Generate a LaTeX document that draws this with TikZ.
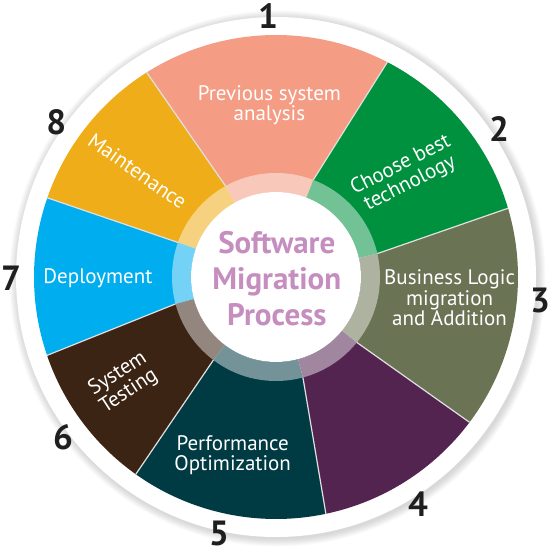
\documentclass[tikz,border=0pt]{standalone}
\usepackage{fontspec}
\setmainfont{PT Sans}
\definecolor{salmon}{HTML}{F49C84}
\definecolor{techgreen}{HTML}{00913F}
\definecolor{olive}{HTML}{6A7354}
\definecolor{plum}{HTML}{52244F}
\definecolor{teal}{HTML}{003B44}
\definecolor{brown}{HTML}{3C2415}
\definecolor{sky}{HTML}{00AEEF}
\definecolor{amber}{HTML}{EFAE19}
\definecolor{mauve}{HTML}{C58EBF}
\begin{document}
\begin{tikzpicture}[x=1pt,y=1pt,
 sep/.style={draw=black!12,line width=1.2pt},
 lbl/.style={text=white,align=center,inner sep=0pt,font=\fontsize{21}{20.5}\selectfont},
 num/.style={text=black!88,inner sep=0pt,font=\bfseries\fontsize{35}{35}\selectfont}]
\useasboundingbox(-276,-274)rectangle(274,277);
\pgfmathsetmacro{\rin}{85}
\pgfmathsetmacro{\rring}{104}
\pgfmathsetmacro{\rout}{242}
\foreach \k in {0,...,7}\fill[black,opacity=0.02](1.5,-1.5)circle(261+\k);
\fill[white](0,0)circle(260);
\foreach \aa/\ba/\ab/\bb/\col in {69/62.6/119/122.3/salmon,119/122.3/160.6/160.9/amber,
 160.6/160.9/195/198.9/sky,195/198.9/233/234.6/brown,233/234.6/285/281.9/teal,
 285/281.9/321/323.1/plum,321/323.1/373/376.5/olive,13/16.5/69/62.6/techgreen}
 \fill[\col](0,0)--(\aa:\rring)--(\ba:\rout)arc[start angle=\ba,end angle=\bb,radius=\rout]--(\ab:\rring)--cycle;
\fill[white,opacity=.45,even odd rule](0,0)circle(\rring)(0,0)circle(\rin);
\fill[white](0,0)circle(\rin);
\foreach \a/\b in {69/62.6,119/122.3,160.6/160.9,195/198.9,233/234.6,285/281.9,321/323.1,13/16.5}
 \draw[sep](\a:\rring)--(\b:\rout);
\node[lbl](t1)at(-6.6,172){Previous system\\analysis};
\node[lbl,rotate=27](t2)at(129.5,102.5){Choose best\\technology};
\node[lbl](t3)at(173.6,-21){Business Logic\\migration\\and Addition};
\node[lbl](t5)at(-43.3,-178){Performance\\Optimization};
\node[lbl,rotate=33](t6)at(-152.6,-105.6){System\\Testing};
\node[lbl](t7)at(-178,-1.6){Deployment};
\node[lbl,rotate=-35](t8)at(-138.5,106){Maintenance};
\node[text=mauve,align=center,inner sep=0pt,font=\bfseries\fontsize{31}{36}\selectfont](title)at(0.8,-1.6){Software\\Migration\\Process};
\node[num](n1)at(-8,261){1};
\node[num](n2)at(223,148){2};
\node[num](n3)at(264,-23){3};
\node[num](n4)at(142,-227){4};
\node[num](n5)at(-57,-256){5};
\node[num](n6)at(-213,-160){6};
\node[num](n7)at(-265,-1.6){7};
\node[num](n8)at(-219.6,155){8};
\end{tikzpicture}
\end{document}
